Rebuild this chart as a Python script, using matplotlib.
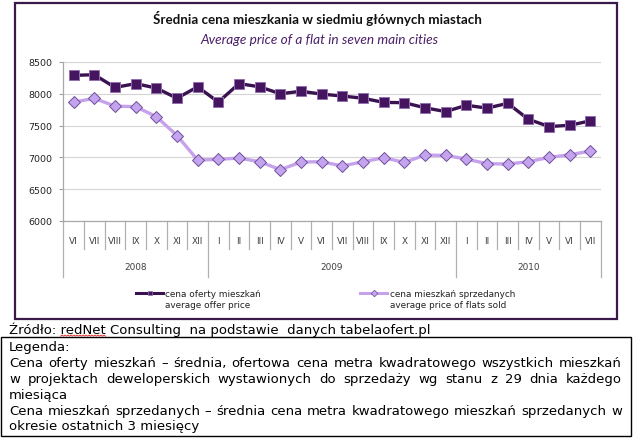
import matplotlib
matplotlib.use('Agg')
import matplotlib.pyplot as plt
from matplotlib.patches import Rectangle
from matplotlib.lines import Line2D

W, H = 633, 439

# data
months = ['VI', 'VII', 'VIII', 'IX', 'X', 'XI', 'XII',
          'I', 'II', 'III', 'IV', 'V', 'VI', 'VII', 'VIII', 'IX', 'X', 'XI', 'XII',
          'I', 'II', 'III', 'IV', 'V', 'VI', 'VII']
years = ['2008', '2009', '2010']
months_per_year = [7, 12, 7]
offer_price = [8290, 8300, 8100, 8160, 8090, 7930, 8110,
               7870, 8160, 8110, 8000, 8040, 7995, 7965, 7930, 7865, 7860, 7780, 7720,
               7820, 7775, 7850, 7600, 7485, 7505, 7575]
sold_price = [7870, 7927, 7807, 7797, 7641, 7344, 6958,
              6969, 6990, 6932, 6807, 6927, 6932, 6865, 6932, 6995, 6922, 7036, 7031,
              6974, 6901, 6896, 6932, 7000, 7042, 7099]
y_ticks = [6000, 6500, 7000, 7500, 8000, 8500]

title_pl = 'Średnia cena mieszkania w siedmiu głównych miastach'
title_en = 'Average price of a flat in seven main cities'
legend_offer = 'cena oferty mieszkań\naverage offer price'
legend_sold = 'cena mieszkań sprzedanych\naverage price of flats sold'
source = 'Źródło: redNet Consulting  na podstawie  danych tabelaofert.pl'
notes = [
    ('Legenda:', False),
    ('Cena oferty mieszkań – średnia, ofertowa cena metra kwadratowego wszystkich mieszkań', True),
    ('w projektach deweloperskich wystawionych do sprzedaży wg stanu z 29 dnia każdego', True),
    ('miesiąca', False),
    ('Cena mieszkań sprzedanych – średnia cena metra kwadratowego mieszkań sprzedanych w', True),
    ('okresie ostatnich 3 miesięcy', False),
]

DARK = '#3a1250'
DARK_FILL = '#45155f'
DARK_EDGE = '#9270b0'
LIGHT = '#c7a2ec'
LIGHT_FILL = '#c4a4ee'
LIGHT_EDGE = '#6e4f98'
BORDER = '#3b1a4b'


def fx(px):
    return px / W


def fy(py):
    return 1 - py / H


fig = plt.figure(figsize=(6.33, 4.39), dpi=100)
fig.patch.set_facecolor('white')
renderer = fig.canvas.get_renderer()

# chart frame
fig.add_artist(Rectangle((fx(15), fy(320)), (617 - 15) / W, (320 - 4) / H,
                         transform=fig.transFigure, fill=False,
                         edgecolor=BORDER, linewidth=1.6))

fig.text(fx(317), fy(18), title_pl, family='Lato', weight='bold', fontsize=9.6,
         ha='center', va='center', color='#111111')
fig.text(fx(319), fy(40), title_en, family='Lato', style='italic', fontsize=9.8,
         ha='center', va='center', color='#4a1f68')

ax_bottom, ax_top = 222, 63
ax = fig.add_axes([fx(63.3), fy(ax_bottom), (600.7 - 63.3) / W, (ax_bottom - ax_top) / H])
n = len(months)
xs = [i + 0.5 for i in range(n)]

ax.plot(xs, sold_price, color=LIGHT, linewidth=2.4, marker='D', markersize=6.3,
        markerfacecolor=LIGHT_FILL, markeredgecolor=LIGHT_EDGE, markeredgewidth=0.7,
        zorder=3, clip_on=False)
ax.plot(xs, offer_price, color=DARK, linewidth=2.4, marker='s', markersize=6.8,
        markerfacecolor=DARK_FILL, markeredgecolor=DARK_EDGE, markeredgewidth=0.7,
        zorder=4, clip_on=False)

ax.set_xlim(0, n)
ax.set_ylim(6000, 8500)
ax.set_yticks(y_ticks)
ax.set_yticklabels([str(v) for v in y_ticks])
ax.tick_params(axis='y', length=3, width=0.8, color='#a0a0a0', pad=5,
               labelsize=6.8, labelcolor='#222222')
ax.set_xticks([])
ax.grid(axis='y', color='#d4d4d4', linewidth=0.8)
ax.set_axisbelow(True)
for s in ['top', 'right']:
    ax.spines[s].set_visible(False)
for s in ['left', 'bottom']:
    ax.spines[s].set_color('#a8a8a8')
    ax.spines[s].set_linewidth(0.9)

# category axis: months and years
ppx = ax_bottom - ax_top
tr = ax.get_xaxis_transform()
for i, m in enumerate(months):
    ax.text(i + 0.5, -19 / ppx, m, transform=tr, ha='center', va='center',
            fontsize=6.4, color='#404040', family='DejaVu Sans')
year_edges = [0]
for c in months_per_year:
    year_edges.append(year_edges[-1] + c)
for b in range(n + 1):
    low = -56 if b in year_edges else -28
    ax.add_line(Line2D([b, b], [0, low / ppx], transform=tr, color='#b0b0b0',
                       linewidth=0.9, clip_on=False))
for k, yname in enumerate(years):
    mid = (year_edges[k] + year_edges[k + 1]) / 2
    ax.text(mid, -46 / ppx, yname, transform=tr, ha='center', va='center',
            fontsize=6.4, color='#404040')

# legend
fig.add_artist(Line2D([fx(136), fx(163)], [fy(294), fy(294)], color=DARK, linewidth=2.2))
fig.add_artist(Line2D([fx(149.5)], [fy(294)], marker='s', markersize=3.2, color=DARK_FILL,
                      markeredgecolor=DARK_EDGE, markeredgewidth=0.5))
fig.text(fx(165), fy(300), legend_offer, fontsize=6.4, va='center', ha='left',
         color='#222222', linespacing=1.3)
fig.add_artist(Line2D([fx(360), fx(387)], [fy(294), fy(294)], color=LIGHT, linewidth=2.2))
fig.add_artist(Line2D([fx(373.5)], [fy(294)], marker='D', markersize=3.4, color=LIGHT_FILL,
                      markeredgecolor=LIGHT_EDGE, markeredgewidth=0.5))
fig.text(fx(390), fy(300), legend_sold, fontsize=6.4, va='center', ha='left',
         color='#222222', linespacing=1.3)

# source line with spell-check squiggle
FS = 9.5
src = fig.text(fx(9), fy(330), source, fontsize=FS, va='center', ha='left', color='black')


def text_width(s):
    t = fig.text(0, 0, s, fontsize=FS)
    w = t.get_window_extent(renderer).width
    t.remove()
    return w


x_red = 9 + text_width('Źródło: redNet') - text_width('redNet')
w_red = text_width('redNet')
zx, zy = [], []
k = 0
xx = x_red
while xx <= x_red + w_red:
    zx.append(fx(xx))
    zy.append(fy(337.2 if k % 2 == 0 else 336))
    xx += 1.5
    k += 1
fig.add_artist(Line2D(zx, zy, color='#e02020', linewidth=0.6))

# notes box
fig.add_artist(Rectangle((fx(1), fy(437)), (631 - 1) / W, (437 - 338) / H,
                         transform=fig.transFigure, fill=False,
                         edgecolor='black', linewidth=1.0))
line_y = [348, 364, 380, 396, 412, 427]
x0, x1 = 9, 622
for (s, just), yy in zip(notes, line_y):
    if not just:
        fig.text(fx(x0), fy(yy), s, fontsize=FS, va='center', ha='left', color='black')
        continue
    words = s.split()
    widths = [text_width(w) for w in words]
    gap = (x1 - x0 - sum(widths)) / (len(words) - 1)
    xx = x0
    for w, wd in zip(words, widths):
        fig.text(fx(xx), fy(yy), w, fontsize=FS, va='center', ha='left', color='black')
        xx += wd + gap

fig.savefig('out.png', dpi=100, facecolor='white')
